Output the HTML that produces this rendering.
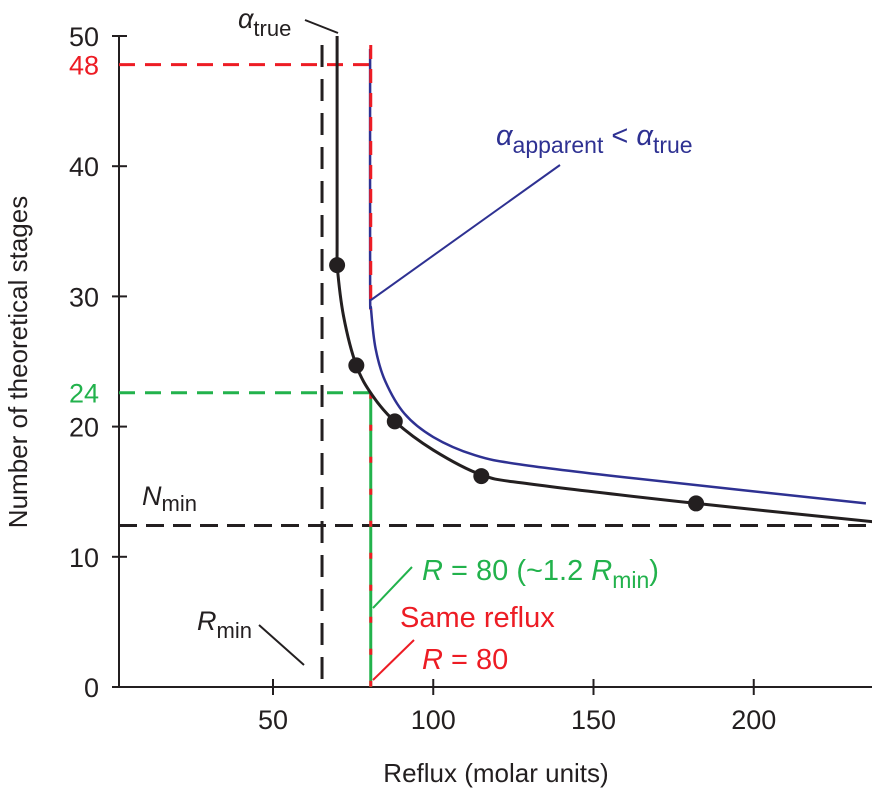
<!DOCTYPE html>
<html><head><meta charset="utf-8"><style>
html,body{margin:0;padding:0;background:#fff;}
svg{display:block;font-family:"Liberation Sans",Arial,sans-serif;}
</style></head><body>
<svg id="chart" width="872" height="792" viewBox="0 0 872 792">
<g id="axes"></g><g id="marks"></g><g id="ann"></g>
</svg>
<script>
const xTicks=[50,100,150,200];
const yTicks=[0,10,20,30,40,50];
const trueCurve=[[70,50],[70,34],[70,32.4],[72,28.5],[76,24.7],[81,22.4],[88,20.4],[100,18.2],[115,16.3],[130,15.6],[182,14.1],[237,12.7]];
const apparentCurve=[[80.3,49],[80.3,31],[80.6,29],[82,26],[85,23.5],[91,21],[100,19.2],[113,17.8],[127,17.1],[160,16.1],[235,14.1]];
const truePoints=[[70,32.4],[76,24.7],[88,20.4],[115,16.2],[182,14.1]];
const rMin=[65.3];
const nMin=[12.4];
const rSame=[80.5];
const nApparent=[47.8];
const nTrue=[22.6];
const nLabels=["48","24"];

const NS="http://www.w3.org/2000/svg";
function X(v){return 112.75+3.205*v;}
function Y(v){return 687-13.02*v;}
function mk(parent,tag,attrs,name,text){const e=document.createElementNS(NS,tag);for(const k in attrs)e.setAttribute(k,attrs[k]);


if(text!==undefined)e.textContent=text;document.getElementById(parent).appendChild(e);return e;}
const L=119,R=872,B=687,T=36;
mk('axes','line',{x1:L,y1:B,x2:R,y2:B,stroke:'#231f20','stroke-width':2},'x-axis');
mk('axes','line',{x1:L,y1:B,x2:L,y2:T,stroke:'#231f20','stroke-width':2},'y-axis');
xTicks.forEach(v=>{mk('axes','line',{x1:X(v),y1:B-8,x2:X(v),y2:B+8,stroke:'#231f20','stroke-width':2},'x-tick');
mk('axes','text',{x:X(v),y:B+42,'font-size':27,'text-anchor':'middle',fill:'#231f20'},'x-tick-label',String(v));});
yTicks.forEach(v=>{mk('axes','line',{x1:L-7,y1:Y(v),x2:L+8,y2:Y(v),stroke:'#231f20','stroke-width':2},'y-tick');
mk('axes','text',{x:99,y:Y(v)+10,'font-size':27,'text-anchor':'end',fill:'#231f20'},'y-tick-label',String(v));});
mk('axes','text',{x:496,y:782,'font-size':26,'text-anchor':'middle',fill:'#231f20'},'x-axis-title','Reflux (molar units)');
mk('axes','text',{x:0,y:0,'font-size':26,'text-anchor':'middle',fill:'#231f20',transform:'translate(27,362) rotate(-90)'},'y-axis-title','Number of theoretical stages');

mk('marks','line',{x1:X(rMin[0]),y1:45,x2:X(rMin[0]),y2:B,stroke:'#231f20','stroke-width':3,'stroke-dasharray':'22 12'},'r-min-line');
mk('marks','line',{x1:L,y1:Y(nMin[0]),x2:R,y2:Y(nMin[0]),stroke:'#231f20','stroke-width':3,'stroke-dasharray':'18 9'},'n-min-line');
mk('marks','line',{x1:L,y1:Y(nApparent[0]),x2:X(rSame[0]),y2:Y(nApparent[0]),stroke:'#ed1c24','stroke-width':3,'stroke-dasharray':'16 10'},'n-48-line');
mk('marks','line',{x1:L,y1:Y(nTrue[0]),x2:X(rSame[0]),y2:Y(nTrue[0]),stroke:'#22b24c','stroke-width':3,'stroke-dasharray':'16 10'},'n-24-line');
mk('marks','text',{x:99,y:Y(nApparent[0])+10,'font-size':27,'text-anchor':'end',fill:'#ed1c24'},'n-48-label',nLabels[0]);
mk('marks','text',{x:99,y:Y(nTrue[0])+10,'font-size':27,'text-anchor':'end',fill:'#22b24c'},'n-24-label',nLabels[1]);
function smooth(a){const P=a.map(p=>[X(p[0]),Y(p[1])]);let d='M'+P[0][0]+' '+P[0][1];
for(let i=0;i<P.length-1;i++){const p0=P[i-1]||P[i],p1=P[i],p2=P[i+1],p3=P[i+2]||p2;
d+=` C${p1[0]+(p2[0]-p0[0])/6} ${p1[1]+(p2[1]-p0[1])/6} ${p2[0]-(p3[0]-p1[0])/6} ${p2[1]-(p3[1]-p1[1])/6} ${p2[0]} ${p2[1]}`;}return d;}
mk('marks','path',{d:smooth(apparentCurve),fill:'none',stroke:'#2e3192','stroke-width':2.5},'apparent-curve');
mk('marks','line',{x1:X(rSame[0]),y1:45,x2:X(rSame[0]),y2:Y(29),stroke:'#ed1c24','stroke-width':3,'stroke-dasharray':'14 10'},'r-80-red-line');
mk('marks','line',{x1:X(rSame[0]),y1:Y(nTrue[0]),x2:X(rSame[0]),y2:B,stroke:'#22b24c','stroke-width':3},'r-80-green-line');
mk('marks','line',{x1:X(rSame[0]),y1:Y(nTrue[0]),x2:X(rSame[0]),y2:B,stroke:'#ed1c24','stroke-width':3,'stroke-dasharray':'6 26'},'r-80-red-dash');
mk('marks','path',{d:smooth(trueCurve),fill:'none',stroke:'#231f20','stroke-width':3},'true-curve');
truePoints.forEach(p=>mk('marks','circle',{cx:X(p[0]),cy:Y(p[1]),r:8,fill:'#231f20'},'data-point'));

mk('ann','line',{x1:305,y1:20,x2:338,y2:33,stroke:'#231f20','stroke-width':2},'alpha-true-leader');
mk('ann','text',{x:238,y:28,'font-size':27,fill:'#231f20'},'alpha-true-label').innerHTML='<tspan font-style="italic">α</tspan><tspan font-size="22" dy="8">true</tspan>';
mk('ann','line',{x1:371,y1:300,x2:560,y2:165,stroke:'#2e3192','stroke-width':2},'alpha-apparent-leader');
mk('ann','text',{x:496,y:145,'font-size':29,fill:'#2e3192'},'alpha-apparent-label').innerHTML='<tspan font-style="italic">α</tspan><tspan font-size="23" dy="8">apparent</tspan><tspan dy="-8"> &lt; </tspan><tspan font-style="italic">α</tspan><tspan font-size="23" dy="8">true</tspan>';
mk('ann','text',{x:142,y:505,'font-size':27,fill:'#231f20'},'n-min-label').innerHTML='<tspan font-style="italic">N</tspan><tspan font-size="22" dy="6">min</tspan>';
mk('ann','line',{x1:259,y1:625,x2:304,y2:665,stroke:'#231f20','stroke-width':2},'r-min-leader');
mk('ann','text',{x:197,y:630,'font-size':27,fill:'#231f20'},'r-min-label').innerHTML='<tspan font-style="italic">R</tspan><tspan font-size="22" dy="8">min</tspan>';
mk('ann','line',{x1:373,y1:608,x2:412,y2:567,stroke:'#22b24c','stroke-width':2},'r80-green-leader');
mk('ann','text',{x:422,y:580,'font-size':29,fill:'#22b24c'},'r80-green-label').innerHTML='<tspan font-style="italic">R</tspan> = 80 (~1.2 <tspan font-style="italic">R</tspan><tspan font-size="23" dy="8">min</tspan><tspan dy="-8">)</tspan>';
mk('ann','text',{x:400,y:627,'font-size':29,fill:'#ed1c24'},'same-reflux-label','Same reflux');
mk('ann','line',{x1:373,y1:680,x2:414,y2:640,stroke:'#ed1c24','stroke-width':2},'r80-red-leader');
mk('ann','text',{x:422,y:669,'font-size':29,fill:'#ed1c24'},'r80-red-label').innerHTML='<tspan font-style="italic">R</tspan> = 80';
</script>
</body></html>
